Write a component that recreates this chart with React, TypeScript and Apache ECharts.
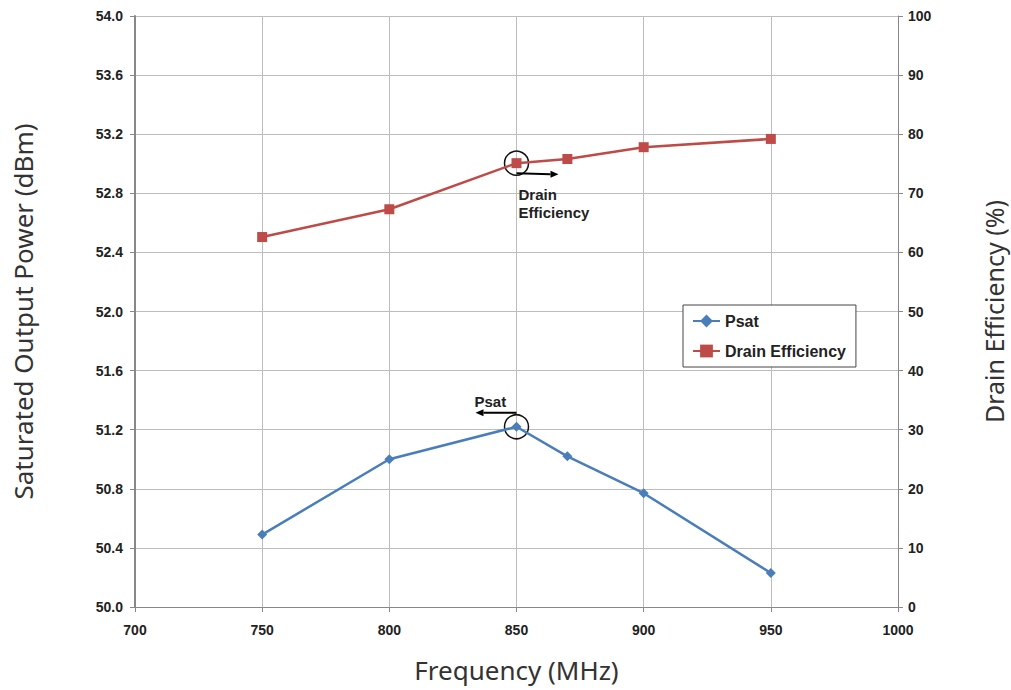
import React, { useEffect, useRef } from "react";
import * as echarts from "echarts";

const freqs = [750, 800, 850, 870, 900, 950];
const psat = [50.49, 51.0, 51.22, 51.02, 50.77, 50.23];
const drainEff = [62.6, 67.3, 75.1, 75.8, 77.8, 79.2];

const BLUE = "#4a7ebb";
const RED = "#be4b48";
const LABEL_FONT = "'Liberation Sans', Arial, sans-serif";
const TITLE_FONT = "'Noto Sans', 'Open Sans', sans-serif";

export default function App() {
  const ref = useRef<HTMLDivElement>(null);
  useEffect(() => {
    if (!ref.current) return;
    const chart = echarts.init(ref.current, null, { renderer: "svg" });
    const tickLabel = {
      fontFamily: LABEL_FONT,
      fontWeight: "bold" as const,
      fontSize: 14,
      color: "#222",
    };
    chart.setOption({
      animation: false,
      backgroundColor: "#fff",
      grid: { left: 135, top: 16, right: 113, bottom: 83, outerBoundsMode: "none", containLabel: false },
      legend: {
        orient: "vertical",
        left: 683,
        top: 305,
        padding: [8, 10, 8, 9],
        itemGap: 14,
        itemWidth: 27,
        itemHeight: 16,
        backgroundColor: "#fff",
        borderColor: "#444",
        borderWidth: 1,
        borderRadius: 0,
        textStyle: { fontFamily: LABEL_FONT, fontWeight: "bold", fontSize: 16, color: "#222" },
        data: ["Psat", "Drain Efficiency"],
      },
      xAxis: {
        type: "value",
        min: 700,
        max: 1000,
        interval: 50,
        name: "Frequency (MHz)",
        nameLocation: "middle",
        nameGap: 50,
        nameTextStyle: { fontFamily: TITLE_FONT, fontSize: 26, color: "#333" },
        axisLine: { show: true, lineStyle: { color: "#888", width: 1 } },
        axisTick: { show: true, length: 5, lineStyle: { color: "#888" } },
        axisLabel: { ...tickLabel, margin: 16, formatter: (v: number) => String(v) },
        splitLine: { show: true, lineStyle: { color: "#bdbdbd", width: 1 } },
      },
      yAxis: [
        {
          type: "value",
          min: 50,
          max: 54,
          interval: 0.4,
          position: "left",
          name: "Saturated Output Power (dBm)",
          nameLocation: "middle",
          nameGap: 99,
          nameTextStyle: { fontFamily: TITLE_FONT, fontSize: 26, color: "#333" },
          axisLine: { show: true, lineStyle: { color: "#888", width: 2 } },
          axisTick: { show: true, length: 5, lineStyle: { color: "#888" } },
          axisLabel: { ...tickLabel, margin: 12, formatter: (v: number) => v.toFixed(1) },
          splitLine: { show: true, lineStyle: { color: "#bdbdbd", width: 1 } },
        },
        {
          type: "value",
          min: 0,
          max: 100,
          interval: 10,
          position: "right",
          name: "Drain Efficiency (%)",
          nameLocation: "middle",
          nameGap: 83,
          nameTextStyle: { fontFamily: TITLE_FONT, fontSize: 25, color: "#333" },
          axisLine: { show: true, lineStyle: { color: "#888", width: 1 } },
          axisTick: { show: true, length: 5, lineStyle: { color: "#888" } },
          axisLabel: { ...tickLabel, margin: 10 },
          splitLine: { show: false },
        },
      ],
      series: [
        {
          name: "Psat",
          type: "line",
          yAxisIndex: 0,
          data: freqs.map((f, i) => [f, psat[i]]),
          symbol: "diamond",
          symbolSize: 10,
          lineStyle: { color: BLUE, width: 2.5 },
          itemStyle: { color: BLUE },
        },
        {
          name: "Drain Efficiency",
          type: "line",
          yAxisIndex: 1,
          data: freqs.map((f, i) => [f, drainEff[i]]),
          symbol: "rect",
          symbolSize: 10,
          lineStyle: { color: RED, width: 2.5 },
          itemStyle: { color: RED },
        },
      ],
    });

    const pPs = chart.convertToPixel({ xAxisIndex: 0, yAxisIndex: 0 }, [freqs[2], psat[2]]) as number[];
    const pDe = chart.convertToPixel({ xAxisIndex: 0, yAxisIndex: 1 }, [freqs[2], drainEff[2]]) as number[];
    const arrowHead = (x: number, y: number, dir: number) => ({
      type: "polygon",
      shape: { points: [[x, y], [x - dir * 8, y - 3.5], [x - dir * 8, y + 3.5]] },
      style: { fill: "#000" },
    });
    chart.setOption({
      graphic: [
        { type: "circle", shape: { cx: pDe[0], cy: pDe[1], r: 12 }, style: { fill: "none", stroke: "#111", lineWidth: 1.5 } },
        { type: "line", shape: { x1: pDe[0], y1: pDe[1] + 10, x2: pDe[0] + 34, y2: pDe[1] + 11 }, style: { stroke: "#000", lineWidth: 2 } },
        arrowHead(pDe[0] + 42, pDe[1] + 11, 1),
        {
          type: "text",
          x: pDe[0] + 2,
          y: pDe[1] + 22,
          style: { text: "Drain\nEfficiency", fontFamily: LABEL_FONT, fontWeight: "bold", fontSize: 15, fill: "#222", lineHeight: 18 },
        },
        { type: "circle", shape: { cx: pPs[0], cy: pPs[1], r: 12 }, style: { fill: "none", stroke: "#111", lineWidth: 1.5 } },
        { type: "line", shape: { x1: pPs[0], y1: pPs[1] - 14, x2: pPs[0] - 33, y2: pPs[1] - 14 }, style: { stroke: "#000", lineWidth: 2 } },
        arrowHead(pPs[0] - 41, pPs[1] - 14, -1),
        {
          type: "text",
          x: pPs[0] - 42,
          y: pPs[1] - 33,
          style: { text: "Psat", fontFamily: LABEL_FONT, fontWeight: "bold", fontSize: 15, fill: "#222" },
        },
      ],
    });
    return () => chart.dispose();
  }, []);
  return <div ref={ref} style={{ position: "fixed", left: 0, top: 0, width: 1011, height: 690 }} />;
}
